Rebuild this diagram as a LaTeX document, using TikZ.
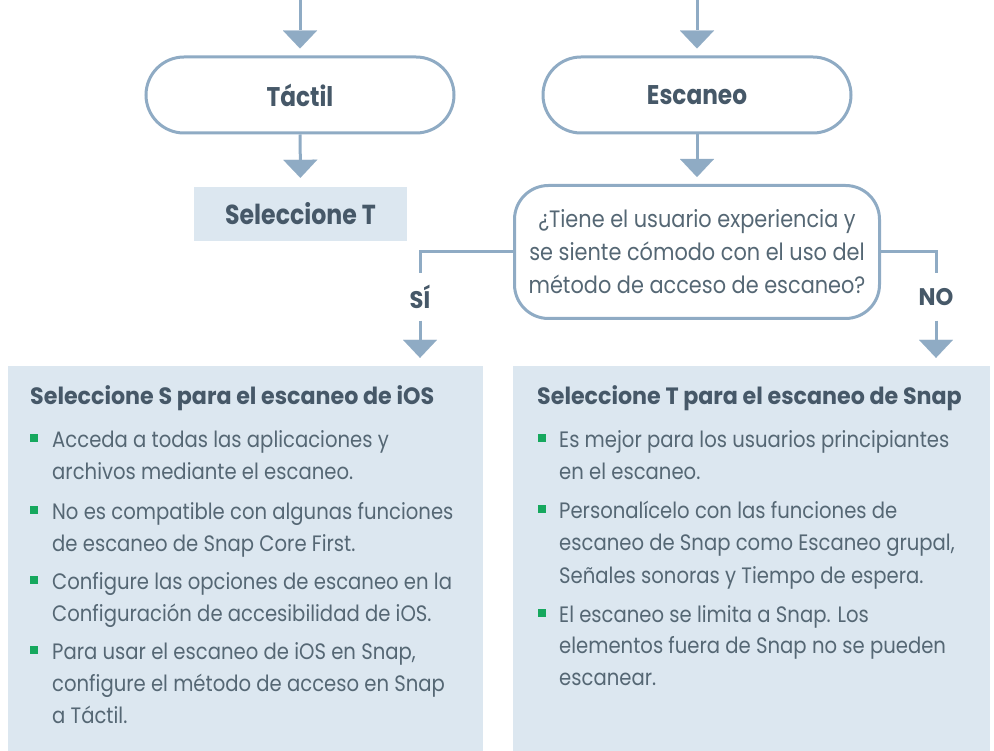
\documentclass[tikz,border=0pt]{standalone}
\usepackage{fontspec}
\setmainfont[FakeStretch=0.88]{Poppins}
\newfontfamily\titlefont[FakeStretch=0.86]{Poppins}
\newfontfamily\hfont[FakeStretch=0.94]{Poppins}
\usetikzlibrary{arrows.meta}
\definecolor{ln}{HTML}{8FABC4}
\definecolor{txt}{HTML}{556774}
\definecolor{hd}{HTML}{465868}
\definecolor{pale}{HTML}{DCE7F0}
\definecolor{grn}{HTML}{16A85E}
\begin{document}
\begin{tikzpicture}[x=1pt,y=-1pt,
  conn/.style={draw=ln,line width=3pt,-{Triangle[width=34pt,length=18pt,line width=0.01pt]}},
  plain/.style={draw=ln,line width=3pt},
  pill/.style={draw=ln,line width=3pt,rounded corners=38pt,minimum width=308pt,minimum height=76pt,
    font=\titlefont\fontsize{27}{30}\selectfont\bfseries,text=hd,fill=white,inner sep=0pt},
  selbox/.style={fill=pale,minimum width=213pt,minimum height=54pt,inner sep=0pt,
    font=\titlefont\fontsize{27.5}{30}\selectfont\bfseries,text=hd},
  qbox/.style={draw=ln,line width=3pt,rounded corners=34pt,minimum width=365pt,minimum height=133pt,
    align=center,font=\fontsize{23.7}{33}\selectfont,text=txt,inner sep=0pt},
  lbl/.style={minimum height=47pt,inner sep=0pt,font=\hfont\fontsize{24}{26}\selectfont\bfseries,text=hd},
  panel/.style={fill=pale,inner sep=0pt,minimum height=385pt},
  head/.style={anchor=base west,inner sep=0pt,font=\hfont\fontsize{23.6}{26}\selectfont\bfseries,text=hd},
  body/.style={anchor=base west,inner sep=0pt,font=\fontsize{22.3}{26}\selectfont,text=txt},
  bul/.style={fill=grn,minimum size=7.5pt,inner sep=0pt}
]
\useasboundingbox (0,0) rectangle (994,751);
% panels
\node[panel,minimum width=475pt] (lb) at (245.5,558.5) {};
\node[panel,minimum width=477pt] (rb) at (751.5,558.5) {};
% top nodes
\coordinate (tl) at (300,0);
\coordinate (tr) at (697,0);
\node[pill] (tactil) at (300,95) {Táctil};
\node[pill] (esc) at (697,95) {Escaneo};
\node[selbox] (selT) at (300.5,214) {Seleccione T};
\node[qbox] (q) at (697,252) {¿Tiene el usuario experiencia y\\se siente cómodo con el uso del\\método de acceso de escaneo?};
\node[lbl] (si) at (420,297) {SÍ};
\node[lbl] (no) at (936,297) {NO};
% connectors
\draw[conn,shorten >=7pt] (tl) -- (tactil);
\draw[conn,shorten >=9pt] (tactil) -- (selT);
\draw[conn,shorten >=7pt] (tr) -- (esc);
\draw[conn,shorten >=7pt] (esc) -- (q);
\draw[plain] (q.west) -| (si.north);
\draw[plain] (q.east) -| (no.north);
\draw[conn,shorten >=8pt] (si.south) -- (si.south |- lb.north);
\draw[conn,shorten >=8pt] (no.south) -- (no.south |- rb.north);
% left panel text
\node[head] (lh) at (30,405) {Seleccione S para el escaneo de iOS};
\node[bul] (lb1) at (34,438) {};
\node[body] (l1a) at (52,447) {Acceda a todas las aplicaciones y};
\node[body] (l1b) at (52,479) {archivos mediante el escaneo.};
\node[bul] (lb2) at (34,510) {};
\node[body] (l2a) at (52,519) {No es compatible con algunas funciones};
\node[body] (l2b) at (52,551) {de escaneo de Snap Core First.};
\node[bul] (lb3) at (34,580) {};
\node[body] (l3a) at (52,589) {Configure las opciones de escaneo en la};
\node[body] (l3b) at (52,621) {Configuración de accesibilidad de iOS.};
\node[bul] (lb4) at (34,650) {};
\node[body] (l4a) at (52,659) {Para usar el escaneo de iOS en Snap,};
\node[body] (l4b) at (52,691) {configure el método de acceso en Snap};
\node[body] (l4c) at (52,723) {a Táctil.};
% right panel text
\node[head] (rh) at (537,405) {Seleccione T para el escaneo de Snap};
\node[bul] (rb1) at (542,438) {};
\node[body] (r1a) at (559,447) {Es mejor para los usuarios principiantes};
\node[body] (r1b) at (559,479) {en el escaneo.};
\node[bul] (rb2) at (542,509) {};
\node[body] (r2a) at (559,518) {Personalícelo con las funciones de};
\node[body] (r2b) at (559,550) {escaneo de Snap como Escaneo grupal,};
\node[body] (r2c) at (559,583) {Señales sonoras y Tiempo de espera.};
\node[bul] (rb3) at (542,613) {};
\node[body] (r3a) at (559,622) {El escaneo se limita a Snap. Los};
\node[body] (r3b) at (559,653) {elementos fuera de Snap no se pueden};
\node[body] (r3c) at (559,685) {escanear.};
\end{tikzpicture}
\end{document}
